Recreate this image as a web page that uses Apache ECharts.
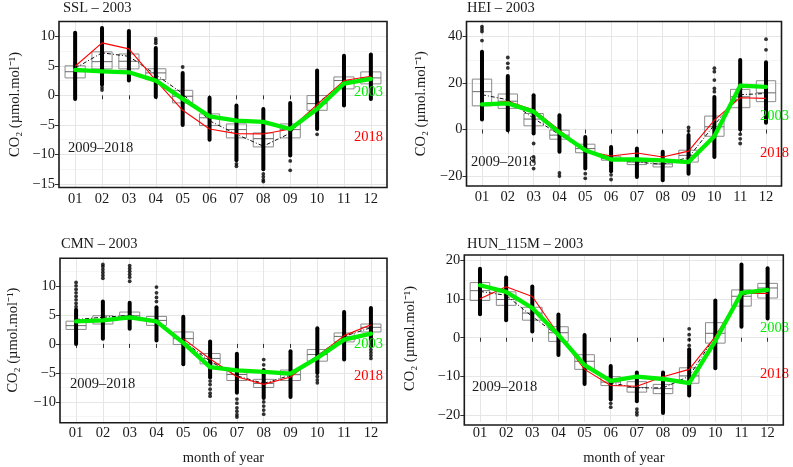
<!DOCTYPE html>
<html><head><meta charset="utf-8">
<script src="https://cdn.jsdelivr.net/npm/echarts@6/dist/echarts.min.js"></script>
<style>html,body{margin:0;padding:0;background:#fff}#c{width:793px;height:467px}</style>
</head><body><div id="c"></div>
<script>
const months = ['01','02','03','04','05','06','07','08','09','10','11','12'];
const monthTicks = [1,2,3,4,5,6,7,8,9,10,11,12];

// ---- SSL ----
const sslQ1 = [2.95, 4.48, 4.48, 2.67, -1.28, -5.12, -7.2, -8.73, -7.2, -2.53, 1.09, 1.94];
const sslMed = [4.0, 5.7, 5.77, 3.8, -0.16, -3.8, -5.8, -7.33, -5.8, -1.4, 2.5, 2.95];
const sslQ3 = [5.0, 7.36, 7.0, 4.5, 0.85, -3.14, -4.84, -6.36, -4.84, -0.04, 3.12, 3.97];
const sslMean = [4.6, 7.2, 6.6, 3.5, 0.3, -4.3, -6.6, -8.6, -6.4, -1.4, 2.3, 3.0];
const sslDotLo = [-0.6, 1.8, 2.5, -0.3, -5.0, -7.5, -11.0, -12.5, -10.2, -5.7, -1.7, -0.6];
const sslDotHi = [10.6, 11.4, 10.9, 8.0, 3.8, -0.4, -1.7, -2.3, -1.3, 4.2, 6.7, 6.9];
const sslOut = [[2,1.3],[2,0.9],[4,9.6],[4,9.2],[4,8.8],[5,4.8],[7,-11.6],[7,-12.0],[8,-13.3],[8,-13.8],[8,-14.3],[8,-14.6],[9,-11.1],[9,-12.7],[10,-6.6]];
const sslY2018 = [4.92, 8.88, 7.87, 2.55, -2.53, -5.69, -6.48, -6.53, -5.7, -1.57, 2.5, 3.22];
const sslY2003 = [4.3, 4.07, 3.9, 2.5, -0.6, -3.55, -4.28, -4.5, -5.7, -2.3, 2.0, 2.78];
const sslMajor = [-15, -10, -5, 0, 5, 10];
const sslMinor = [-12.5, -7.5, -2.5, 2.5, 7.5];

// ---- HEI ----
const heiQ1 = [10.2, 9.1, 1.6, -4.15, -10, -13.2, -15.1, -16.1, -14, -2.9, 9.4, 12];
const heiMed = [16.3, 12.2, 4.5, -2.4, -8.2, -12.5, -14, -14.8, -11.1, 1.2, 14.1, 15.8];
const heiQ3 = [21.7, 15.3, 6.9, -0.27, -6.3, -11.5, -12.5, -13.5, -8.9, 5.8, 17.3, 21];
const heiMean = [15.0, 12.8, 4.8, -2.2, -9.3, -12.8, -14.0, -15.0, -12.0, 2.0, 15.0, 15.5];
const heiDotLo = [4.3, -0.3, -1.7, -9.6, -16.8, -18, -20.4, -21.8, -19, -11.8, 0, 2.9];
const heiDotHi = [33.5, 23, 14.8, 6.2, -3.2, -7.5, -8.2, -9.6, -2.4, 14, 29.9, 29];
const heiOut = [[1,44.3],[1,43.3],[1,42.2],[1,38.3],[2,31],[2,28.5],[2,26.5],[3,-6],[3,-11.8],[3,-13.5],[3,-16.8],[4,-18.7],[4,-20],[5,-19],[5,-21],[6,-19.5],[6,-21.5],[9,0.9],[9,-0.6],[10,26.4],[10,24.9],[10,21.3],[10,17.7],[10,16.3],[11,-2],[11,-4],[11,-6],[12,38.9],[12,34.3]];
const heiY2018 = [10.5, 12.2, 8.4, -0.3, -9.3, -11.4, -10.1, -11.8, -9.3, 4.05, 13.7, 13.4];
const heiY2003 = [10.8, 11.25, 7.7, -1.3, -8.9, -12.9, -12.9, -13.3, -14, -2.9, 18.9, 18.4];
const heiMajor = [-20, 0, 20, 40];
const heiMinor = [-10, 10, 30];

// ---- CMN ----
const cmnQ1 = [2.5, 3.43, 4.29, 3.2, -0.11, -3.43, -6.3, -7.5, -6.3, -2.97, 0.35, 2.06];
const cmnMed = [3.15, 4.17, 4.86, 4.05, 0.91, -2.5, -5.26, -6.8, -5.3, -1.83, 1.3, 2.86];
const cmnQ3 = [3.92, 4.86, 5.49, 4.74, 2.06, -1.66, -4.5, -6.1, -4.5, -0.97, 1.89, 3.43];
const cmnMean = [4.2, 4.6, 4.9, 4.0, 0.5, -3.0, -5.5, -6.8, -5.4, -2.0, 1.3, 2.8];
const cmnDotLo = [0, 0.9, 2.6, 0.6, -3.5, -5.8, -8.4, -9.3, -9.15, -5, -2.7, -0.4];
const cmnDotHi = [5.9, 7.3, 7.1, 6.3, 4.7, 0.4, -1.7, -4.5, -1.26, 2.7, 5.5, 6.2];
const cmnOut = [[1,10.6],[1,10.0],[1,9.4],[1,8.8],[1,8.2],[1,7.6],[1,7.0],[1,6.4],[2,11.3],[2,11.8],[2,12.3],[2,12.8],[2,13.3],[2,13.7],[3,10.8],[3,11.5],[3,12.0],[3,12.5],[3,13.0],[3,13.5],[4,7.3],[4,8.0],[4,8.8],[4,9.8],[6,-6.4],[6,-7.0],[6,-7.8],[6,-8.5],[6,-9.0],[7,-9.5],[7,-10.2],[7,-11.0],[7,-11.6],[7,-12.2],[7,-12.6],[8,-2.7],[8,-3.6],[8,-10.0],[8,-10.7],[8,-11.4],[8,-12.1],[10,-5.6],[10,-6.2],[10,-6.7],[12,-1.0],[12,-1.5],[12,-2.0],[12,-2.5]];
const cmnY2018 = [null, null, null, null, 0.91, -2.6, -5.66, -6.97, -5.7, -2.1, 1.43, 3.3];
const cmnY2003 = [3.88, 4.06, 4.57, 3.88, 0.17, -4.0, -4.57, -4.8, -5.1, -2.4, 0.74, 1.77];
const cmnMajor = [-10, -5, 0, 5, 10];
const cmnMinor = [-12.5, -7.5, -2.5, 2.5, 7.5, 12.5];

// ---- HUN_115M ----
const hunQ1 = [9.65, 8.4, 4.55, -0.95, -8.2, -12.4, -14.1, -14.5, -11.8, -1.4, 8.2, 10.3];
const hunMed = [12.2, 9.9, 6.4, 1.3, -6.1, -11.5, -12.9, -13.2, -9.9, 1.15, 10.75, 12.9];
const hunQ3 = [14.3, 11.9, 7.9, 2.85, -4.4, -10.1, -11.4, -12.1, -7.8, 3.9, 12.4, 14.1];
const hunMean = [12.0, 11.0, 5.5, 0.5, -6.5, -11.7, -13.0, -13.0, -10.0, 0.5, 11.0, 12.5];
const hunDotLo = [6.1, 4.5, 1.6, -4.5, -12, -16, -16.5, -19.5, -15, -7.9, 2.85, 5];
const hunDotHi = [17.9, 15.6, 13.3, 6.0, 0.7, -7.3, -9, -9, -3, 9.65, 19, 18];
const hunOut = [[6,-17],[6,-18],[7,-18.5],[7,-19.3],[7,-20],[9,-2],[9,-0.5],[9,0.8],[9,2.3]];
const hunY2018 = [10.1, 13.2, 10.7, 0.9, -8.2, -12.4, -12.6, -10.1, -8.2, 0.3, 11.5, 11.5];
const hunY2003 = [13.6, 11.9, 7.7, 0.7, -7.1, -11.2, -10.1, -10.7, -11.8, -0.8, 11.6, 12.4];
const hunMajor = [-20, -10, 0, 10, 20];
const hunMinor = [-15, -5, 5, 15];

const FONT = "'Liberation Serif', 'Times New Roman', serif";
const GREEN = '#00ee00';
const RED = '#ff0000';

const panels = [
  {title:'SSL – 2003', q1:sslQ1, med:sslMed, q3:sslQ3, mean:sslMean, lo:sslDotLo, hi:sslDotHi, out:sslOut, r:sslY2018, g:sslY2003, major:sslMajor, minor:sslMinor,
   ymin:-15.6, ymax:12.5, grid:{left:59, top:21.5, width:328, height:166}, nameGap:36, xname:false,
   tx:{title:[63,8], base:[68,148], g:[383,92], r:[383,137]}},
  {title:'HEI – 2003', q1:heiQ1, med:heiMed, q3:heiQ3, mean:heiMean, lo:heiDotLo, hi:heiDotHi, out:heiOut, r:heiY2018, g:heiY2003, major:heiMajor, minor:heiMinor,
   ymin:-24.3, ymax:46.5, grid:{left:466.5, top:21.5, width:315, height:164.5}, nameGap:38, xname:false,
   tx:{title:[467,8], base:[471,162], g:[789,116], r:[789,153]}},
  {title:'CMN – 2003', q1:cmnQ1, med:cmnMed, q3:cmnQ3, mean:cmnMean, lo:cmnDotLo, hi:cmnDotHi, out:cmnOut, r:cmnY2018, g:cmnY2003, major:cmnMajor, minor:cmnMinor,
   ymin:-13.45, ymax:14.75, grid:{left:60, top:258.3, width:327, height:164.4}, nameGap:39, xname:true,
   tx:{title:[61,244], base:[70,384], g:[383,344], r:[383,376]}},
  {title:'HUN_115M – 2003', q1:hunQ1, med:hunMed, q3:hunQ3, mean:hunMean, lo:hunDotLo, hi:hunDotHi, out:hunOut, r:hunY2018, g:hunY2003, major:hunMajor, minor:hunMinor,
   ymin:-21.85, ymax:21.45, grid:{left:464.3, top:255, width:319, height:170}, nameGap:47, xname:true,
   tx:{title:[467,244], base:[472,387], g:[789,328], r:[789,374]}}
];

const grids = [], xAxes = [], yAxes = [], series = [], graphics = [];
const minus = v => String(v).replace('-', '\u2212');

panels.forEach((p, i) => {
  grids.push(Object.assign({show:false, containLabel:false}, p.grid));
  xAxes.push({
    type:'value', gridIndex:i, min:0.4, max:12.6,
    axisLine:{show:false},
    axisTick:{show:true, length:4, customValues:monthTicks, lineStyle:{color:'#333', width:1}},
    axisLabel:{customValues:monthTicks, formatter:v => months[Math.round(v)-1], fontFamily:FONT, fontSize:14.5, color:'#1a1a1a', margin:4},
    splitLine:{show:true, lineStyle:{color:'#e6e6e6', width:1}},
    name: p.xname ? 'month of year' : '', nameLocation:'middle', nameGap:29,
    nameTextStyle:{fontFamily:FONT, fontSize:14.5, color:'#1a1a1a'}
  });
  yAxes.push({
    type:'value', gridIndex:i, min:p.ymin, max:p.ymax,
    axisLine:{show:false},
    axisTick:{show:true, length:4, customValues:p.major, lineStyle:{color:'#333', width:1}},
    axisLabel:{customValues:p.major, formatter:minus, fontFamily:FONT, fontSize:14.5, color:'#1a1a1a', margin:4},
    splitLine:{show:true, lineStyle:{color:'#e6e6e6', width:1}},
    name:'CO\u2082 (\u00b5mol.mol\u207b\u00b9)', nameLocation:'middle', nameGap:p.nameGap, nameRotate:90,
    nameTextStyle:{fontFamily:FONT, fontSize:14.5, color:'#1a1a1a'}
  });
  yAxes.push({
    type:'value', gridIndex:i, min:p.ymin, max:p.ymax, position:'left',
    axisLine:{show:false},
    axisTick:{show:false, customValues:p.minor},
    axisLabel:{show:false, customValues:p.minor},
    splitLine:{show:true, lineStyle:{color:'#f2f2f2', width:0.8}}
  });
  const yi = i*2;
  series.push({
    type:'custom', xAxisIndex:i, yAxisIndex:yi, z:2, silent:true,
    data: monthTicks.map((m, k) => [m, p.q1[k], p.med[k], p.q3[k]]),
    encode:{x:0, y:[1,2,3]},
    renderItem:(params, api) => {
      const x = api.value(0);
      const w = api.size([0.75, 0])[0];
      const a = api.coord([x, api.value(3)]);
      const b = api.coord([x, api.value(1)]);
      const m = api.coord([x, api.value(2)]);
      return {type:'group', children:[
        {type:'rect', shape:{x:a[0]-w/2, y:a[1], width:w, height:b[1]-a[1]}, style:{fill:'none', stroke:'#8a8a8a', lineWidth:1}},
        {type:'line', shape:{x1:a[0]-w/2, y1:m[1], x2:a[0]+w/2, y2:m[1]}, style:{stroke:'#6a6a6a', lineWidth:1}}
      ]};
    }
  });
  series.push({
    type:'custom', xAxisIndex:i, yAxisIndex:yi, z:3, silent:true,
    data: monthTicks.map((m, k) => [m, p.lo[k], p.hi[k]]),
    encode:{x:0, y:[1,2]},
    renderItem:(params, api) => {
      const x = api.value(0);
      const t = api.coord([x, api.value(2)]);
      const b = api.coord([x, api.value(1)]);
      return {type:'rect', shape:{x:t[0]-2, y:t[1]-2, width:4, height:b[1]-t[1]+4, r:2}, style:{fill:'#000'}};
    }
  });
  series.push({
    type:'scatter', xAxisIndex:i, yAxisIndex:yi, z:3, silent:true,
    data:p.out, symbol:'circle', symbolSize:3.8, itemStyle:{color:'#000'}
  });
  series.push({
    type:'line', xAxisIndex:i, yAxisIndex:yi, z:4, silent:true,
    data: monthTicks.map((m, k) => [m, p.mean[k]]), symbol:'none',
    lineStyle:{color:'#111', width:1, type:[4,2,1,2]}
  });
  series.push({
    type:'line', xAxisIndex:i, yAxisIndex:yi, z:5, silent:true,
    data: monthTicks.map((m, k) => [m, p.r[k]]), symbol:'none', connectNulls:false,
    lineStyle:{color:RED, width:1.1}
  });
  series.push({
    type:'line', xAxisIndex:i, yAxisIndex:yi, z:6, silent:true,
    data: monthTicks.map((m, k) => [m, p.g[k]]), symbol:'none',
    lineStyle:{color:GREEN, width:4.3, join:'round', cap:'round'}
  });
  // panel frame
  graphics.push({type:'rect', z:20, silent:true,
    shape:{x:p.grid.left, y:p.grid.top, width:p.grid.width, height:p.grid.height},
    style:{fill:'none', stroke:'#1a1a1a', lineWidth:1.6}});
  const ts = {fontFamily:FONT, fontSize:14.5};
  graphics.push({type:'text', x:p.tx.title[0], y:p.tx.title[1], style:Object.assign({text:p.title, fill:'#1a1a1a', textVerticalAlign:'middle'}, ts), z:10});
  graphics.push({type:'text', x:p.tx.base[0], y:p.tx.base[1], style:Object.assign({text:'2009–2018', fill:'#1a1a1a', textVerticalAlign:'middle'}, ts), z:10});
  graphics.push({type:'text', x:p.tx.g[0], y:p.tx.g[1], style:Object.assign({text:'2003', fill:GREEN, textAlign:'right', textVerticalAlign:'middle'}, ts), z:10});
  graphics.push({type:'text', x:p.tx.r[0], y:p.tx.r[1], style:Object.assign({text:'2018', fill:RED, textAlign:'right', textVerticalAlign:'middle'}, ts), z:10});
});

const chart = echarts.init(document.getElementById('c'), null, {renderer:'canvas'});
chart.setOption({
  animation:false,
  backgroundColor:'#fff',
  grid:grids, xAxis:xAxes, yAxis:yAxes, series:series, graphic:graphics
});
</script>
</body></html>
